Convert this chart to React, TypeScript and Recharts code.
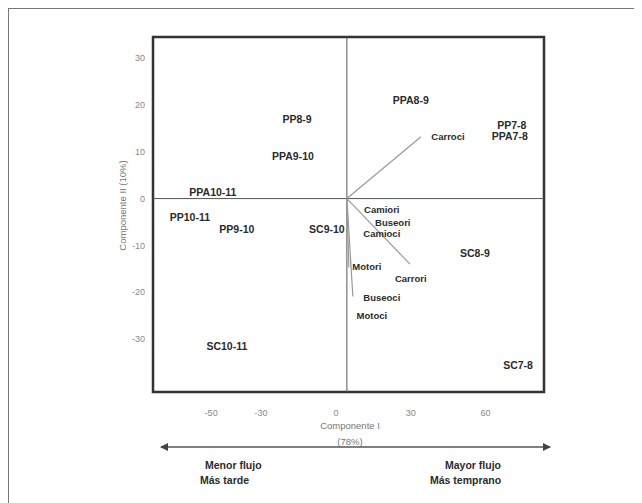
import React from "react";
import {
  ScatterChart,
  Scatter,
  XAxis,
  YAxis,
  ReferenceLine,
  ReferenceArea,
} from "recharts";

// ejes
const X_DOMAIN: [number, number] = [-73.3, 83.4];
const Y_DOMAIN: [number, number] = [-41.3, 34.5];
const X_TICKS = [-50, -30, 0, 30, 60];
const Y_TICKS = [-30, -20, -10, 0, 10, 20, 30];
const ORIGIN_X = 4.4;

// periodos (puntuaciones)
const periodLabels = ["PP8-9", "PPA9-10", "PPA10-11", "PP10-11", "PP9-10", "SC9-10", "SC10-11", "PPA8-9", "PP7-8", "PPA7-8", "SC8-9", "SC7-8"];
const periodX = [-15.6, -17.2, -49.3, -58.5, -39.7, -3.6, -43.7, 30, 70.5, 69.7, 55.7, 73];
const periodY = [17.0, 9.1, 1.3, -4.0, -6.6, -6.6, -31.5, 20.9, 15.7, 13.2, -11.7, -35.5];

// variables (etiquetas de cargas)
const variableLabels = ["Carroci", "Camiori", "Buseori", "Camioci", "Motori", "Carrori", "Buseoci", "Motoci"];
const variableX = [44.9, 18.4, 22.8, 18.4, 12.4, 30, 18.4, 14.4];
const variableY = [13.2, -2.4, -5.1, -7.5, -14.5, -17.0, -21.1, -24.9];

// vectores desde el origen
const vectorNames = ["Carroci", "Carrori", "Motori", "Buseoci"];
const vectorX = [34.1, 29.7, 5.2, 6.8];
const vectorY = [13.2, -14.0, -14.7, -20.9];

const FONT = "'Liberation Sans', Arial, sans-serif";

const periodData = periodLabels.map((label, i) => ({ label, x: periodX[i], y: periodY[i] }));
const variableData = variableLabels.map((label, i) => ({ label, x: variableX[i], y: variableY[i] }));

const LabelShape = (weight: number, size: number) => (props: any) => {
  const { cx, cy, payload } = props;
  if (cx == null || cy == null) return null;
  return (
    <text
      x={cx}
      y={cy}
      dy="0.35em"
      textAnchor="middle"
      fontFamily={FONT}
      fontSize={size}
      fontWeight={weight}
      fill="#2b2b2b"
    >
      {payload.label}
    </text>
  );
};

const YLabel = (props: any) => {
  const vb = props.viewBox || {};
  const x = vb.x + 10;
  const y = vb.y + vb.height / 2 - 9;
  return (
    <text
      x={x}
      y={y}
      transform={`rotate(-90 ${x} ${y})`}
      textAnchor="middle"
      dy="0.35em"
      fontFamily={FONT}
      fontSize={9.5}
      fill="#777"
    >
      Componente II (10%)
    </text>
  );
};

const XFooter = (props: any) => {
  const vb = props.viewBox || {};
  const x0 = vb.x;
  const y0 = vb.y; // borde inferior del área de trazado
  const textBold = { fontFamily: FONT, fontSize: 10.5, fontWeight: 700, fill: "#2b2b2b" };
  return (
    <g>
      <defs>
        <marker id="arrowEnd" markerWidth="8" markerHeight="8" refX="7" refY="4" orient="auto" markerUnits="userSpaceOnUse">
          <path d="M0,0 L8,4 L0,8 z" fill="#444" />
        </marker>
        <marker id="arrowStart" markerWidth="8" markerHeight="8" refX="1" refY="4" orient="auto" markerUnits="userSpaceOnUse">
          <path d="M8,0 L0,4 L8,8 z" fill="#444" />
        </marker>
      </defs>
      <text x={x0 + 197} y={y0 + 37} textAnchor="middle" fontFamily={FONT} fontSize={9.5} fill="#777">
        Componente I
      </text>
      <text x={x0 + 197} y={y0 + 53} textAnchor="middle" fontFamily={FONT} fontSize={9.5} fill="#777">
        (78%)
      </text>
      <line
        x1={x0 + 8}
        y1={y0 + 55}
        x2={x0 + 397}
        y2={y0 + 55}
        stroke="#555"
        strokeWidth={1.5}
        markerStart="url(#arrowStart)"
        markerEnd="url(#arrowEnd)"
      />
      <text x={x0 + 52} y={y0 + 77} {...textBold}>Menor flujo</text>
      <text x={x0 + 47} y={y0 + 92} {...textBold}>Más tarde</text>
      <text x={x0 + 292} y={y0 + 77} {...textBold}>Mayor flujo</text>
      <text x={x0 + 277} y={y0 + 92} {...textBold}>Más temprano</text>
    </g>
  );
};

export default function App() {
  return (
    <div
      style={{
        width: 634,
        height: 495,
        borderTop: "1.5px solid #777",
        borderLeft: "1.5px solid #777",
        boxSizing: "border-box",
        background: "#fff",
      }}
    >
      <ScatterChart
        width={632}
        height={493}
        margin={{ top: 28, right: 97, bottom: 80, left: 104 }}
      >
        <XAxis
          type="number"
          dataKey="x"
          domain={X_DOMAIN}
          ticks={X_TICKS}
          allowDataOverflow
          axisLine={false}
          tickLine={false}
          tickMargin={12}
          height={30}
          tick={{ fill: "#888", fontSize: 9, fontFamily: FONT }}
          label={<XFooter />}
        />
        <YAxis
          type="number"
          dataKey="y"
          domain={Y_DOMAIN}
          ticks={Y_TICKS}
          allowDataOverflow
          axisLine={false}
          tickLine={false}
          width={40}
          tick={{ fill: "#888", fontSize: 9, fontFamily: FONT }}
          label={<YLabel />}
        />
        <ReferenceLine x={ORIGIN_X} stroke="#555" strokeWidth={1} />
        <ReferenceLine y={0} stroke="#555" strokeWidth={1} />
        {vectorNames.map((name, i) => (
          <ReferenceLine
            key={name}
            segment={[
              { x: ORIGIN_X, y: 0 },
              { x: vectorX[i], y: vectorY[i] },
            ]}
            stroke="#9a9a9a"
            strokeWidth={1.2}
          />
        ))}
        <ReferenceArea
          x1={X_DOMAIN[0]}
          x2={X_DOMAIN[1]}
          y1={Y_DOMAIN[0]}
          y2={Y_DOMAIN[1]}
          fill="none"
          stroke="#333"
          strokeWidth={2.5}
          fillOpacity={0}
        />
        <Scatter data={periodData} shape={LabelShape(700, 10.5)} isAnimationActive={false} />
        <Scatter data={variableData} shape={LabelShape(600, 9.5)} isAnimationActive={false} />
      </ScatterChart>
    </div>
  );
}
